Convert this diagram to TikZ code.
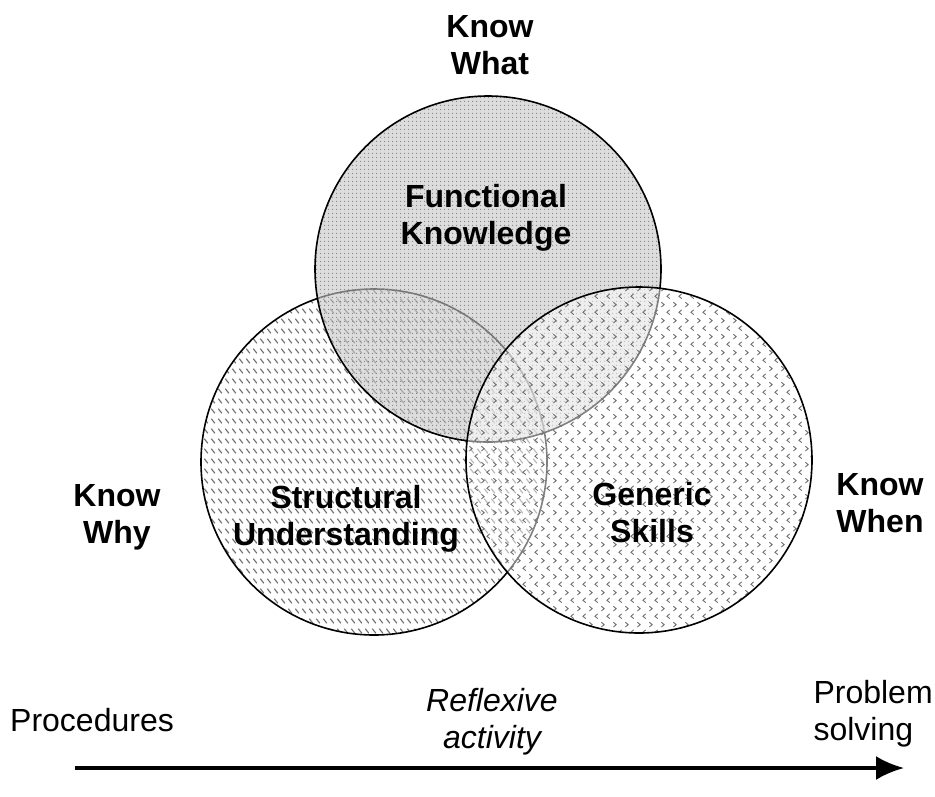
\documentclass[tikz,border=0pt]{standalone}
\usepackage{fontspec}
\setmainfont{Liberation Sans}
\usetikzlibrary{patterns,arrows.meta}

% fills of the three circles
\pgfdeclarepatternformonly{fkdots}{\pgfpointorigin}{\pgfqpoint{3.5pt}{3.5pt}}{\pgfqpoint{3.5pt}{3.5pt}}{
  \pgfpathcircle{\pgfqpoint{1.75pt}{1.75pt}}{0.85pt}\pgfusepath{fill}}
\pgfdeclarepatternformonly{sudashes}{\pgfpointorigin}{\pgfqpoint{7pt}{10pt}}{\pgfqpoint{7pt}{10pt}}{
  \pgfsetlinewidth{1.3pt}
  \pgfpathmoveto{\pgfqpoint{1.5pt}{8pt}}\pgfpathlineto{\pgfqpoint{5.5pt}{3pt}}\pgfusepath{stroke}}
\pgfdeclarepatternformonly{gschevrons}{\pgfpointorigin}{\pgfqpoint{12pt}{16pt}}{\pgfqpoint{12pt}{16pt}}{
  \pgfsetlinewidth{1pt}
  \pgfpathmoveto{\pgfqpoint{1.5pt}{14.5pt}}\pgfpathlineto{\pgfqpoint{4.5pt}{12pt}}\pgfpathlineto{\pgfqpoint{1.5pt}{9.5pt}}
  \pgfpathmoveto{\pgfqpoint{10.5pt}{6.5pt}}\pgfpathlineto{\pgfqpoint{7.5pt}{4pt}}\pgfpathlineto{\pgfqpoint{10.5pt}{1.5pt}}
  \pgfusepath{stroke}}

\tikzset{
  bigbold/.style={font={\fontsize{32pt}{37pt}\selectfont\bfseries}, align=center},
  plainlbl/.style={font={\fontsize{32pt}{37pt}\selectfont}, align=center},
  ring/.style={draw=black, line width=1.6pt}
}

\begin{document}
\begin{tikzpicture}[x=1pt, y=-1pt]

  \useasboundingbox (0, 0) rectangle (935, 796);

  \coordinate (cwhy) at (374, 462);
  \coordinate (cwhat) at (488, 269);
  \coordinate (cwhen) at (639, 460);

  % left, top, right in this order
  \fill[white, fill opacity=0.5] (cwhy) circle[radius=173pt];
  \fill[pattern=sudashes, pattern color=black!55] (cwhy) circle[radius=173pt];
  \draw[ring] (cwhy) circle[radius=173pt];

  \fill[black!22, fill opacity=0.6] (cwhat) circle[radius=173pt];
  \fill[pattern=fkdots, pattern color=black!45] (cwhat) circle[radius=173pt];
  \draw[ring] (cwhat) circle[radius=173pt];

  \fill[white, fill opacity=0.5] (cwhen) circle[radius=173pt];
  \fill[pattern=gschevrons, pattern color=black!55] (cwhen) circle[radius=173pt];
  \draw[ring] (cwhen) circle[radius=173pt];

  \node[bigbold] (knowwhat) at (490, 45) {Know\\What};
  \node[bigbold] (functional) at (486, 218) {Functional\\Knowledge};
  \node[bigbold] (structural) at (346, 519) {Structural\\Understanding};
  \node[bigbold] (generic) at (652, 513) {Generic\\Skills};
  \node[bigbold] (knowwhy) at (117, 517) {Know\\Why};
  \node[bigbold] (knowwhen) at (880, 503) {Know\\When};

  \node[plainlbl] (procedures) at (92, 720) {Procedures};
  \node[plainlbl, font={\fontsize{32pt}{37pt}\selectfont\itshape}] (reflexive) at (492, 722) {Reflexive\\activity};
  \node[plainlbl, align=left, anchor=west] (problem) at (810, 714) {Problem\\solving};

  \coordinate (arrowstart) at (75, 768);
  \coordinate (arrowend) at (904, 768);
  \draw[line width=3.5pt, -{Latex[length=28pt, width=24pt]}] (arrowstart) -- (arrowend);

\end{tikzpicture}
\end{document}
